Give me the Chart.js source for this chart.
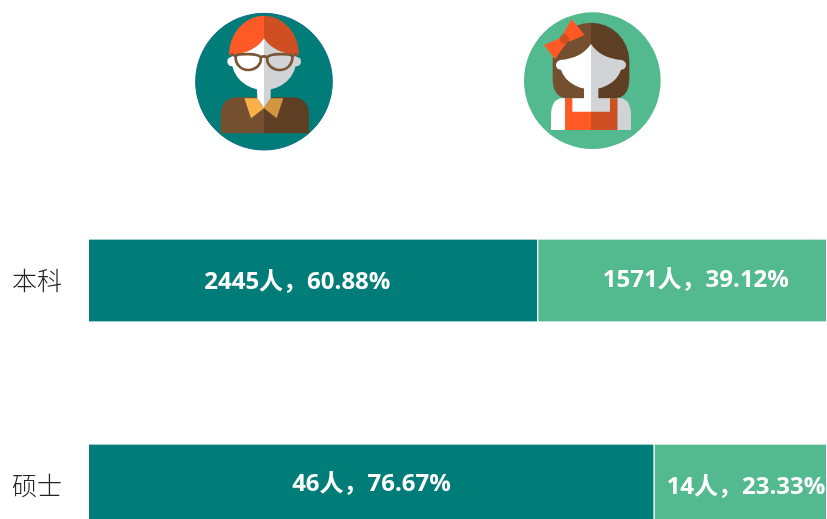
<!DOCTYPE html>
<html lang="zh">
<head>
<meta charset="utf-8">
<style>
  html, body { margin: 0; padding: 0; background: #fff; overflow: hidden; width: 827px; height: 519px; }
  #wrap { position: relative; width: 827px; height: 622px; }
  .icon { position: absolute; top: 0; width: 170px; height: 160px; }
</style>
<script src="https://cdn.jsdelivr.net/npm/chart.js@4"></script>
</head>
<body>
<div id="wrap">
  <canvas id="grafica"></canvas>

  <!-- hombre -->
  <svg class="icon" style="left:180px" viewBox="0 0 510 480">
    <circle cx="252" cy="245" r="205" fill="#007D78" stroke="#0B6A8C" stroke-width="3"/>
    <path d="M252 47A105 118 0 0 0 147 165H252Z" fill="#FF5A26"/>
    <path d="M252 47A105 118 0 0 1 357 165H252Z" fill="#D04F22"/>
    <path d="M122 400V345Q122 292 175 292H252V400Z" fill="#745030"/>
    <path d="M387 400V345Q387 292 334 292H252V400Z" fill="#5E3F24"/>
    <path d="M230 255H252V325L232 295Z" fill="#fff"/>
    <path d="M272 255H252V325L272 295Z" fill="#D1D3D6"/>
    <path d="M193 295H232L252 325L213 355Z" fill="#F9B14A"/>
    <path d="M310 295H272L252 325L290 355Z" fill="#D29640"/>
    <path d="M252 115Q225 158 155 165V180A97 90 0 0 0 252 270Z" fill="#fff"/>
    <path d="M252 115Q279 158 349 165V180A97 90 0 0 1 252 270Z" fill="#D1D3D6"/>
    <circle cx="156" cy="185" r="14" fill="#fff"/>
    <circle cx="349" cy="185" r="14" fill="#D1D3D6"/>
    <g fill="none" stroke="#7A5535" stroke-width="8">
      <path d="M167 168C175 160 235 160 242 172C246 195 225 210 205 210C185 210 165 195 167 168Z"/>
      <path d="M337 168C329 160 269 160 262 172C258 195 279 210 299 210C319 210 339 195 337 168Z"/>
      <path d="M242 172Q252 166 262 172M167 168L152 162M337 168L352 162"/>
    </g>
  </svg>

  <!-- mujer -->
  <svg class="icon" style="left:510px" viewBox="0 0 510 480">
    <circle cx="247" cy="242" r="205" fill="#53BA8F"/>
    <path d="M243 68A115 115 0 0 0 128 180V240Q130 295 175 295H243Z" fill="#745030"/>
    <path d="M243 68A115 115 0 0 1 358 180V240Q356 295 311 295H243Z" fill="#5E3F24"/>
    <path d="M165 295H150Q123 305 123 345V390H165Z" fill="#fff"/>
    <path d="M322 295H337Q363 305 363 345V390H322Z" fill="#D1D3D6"/>
    <path d="M165 295H243V390H165Z" fill="#FF5A26"/>
    <path d="M243 295H322V390H243Z" fill="#D04F22"/>
    <path d="M187 295H222V255H243V335H187Z" fill="#fff"/>
    <path d="M300 295H265V255H243V335H300Z" fill="#D1D3D6"/>
    <path d="M243 132Q215 175 150 180V195A93 80 0 0 0 243 268Z" fill="#fff"/>
    <path d="M243 132Q271 175 336 180V195A93 80 0 0 1 243 268Z" fill="#D1D3D6"/>
    <circle cx="152" cy="195" r="14" fill="#fff"/>
    <circle cx="334" cy="195" r="14" fill="#D1D3D6"/>
    <path d="M102 135L160 110L172 125L135 178Z" fill="#FF5A26"/>
    <path d="M185 58L224 105L178 125L160 100Z" fill="#FF5A26"/>
    <circle cx="163" cy="117" r="14" fill="#D04F22"/>
  </svg>
</div>

<script>
const categorias = ['本科', '硕士'];
const hombres = [2445, 46];
const mujeres = [1571, 14];
const porcHombres = [60.88, 76.67];
const porcMujeres = [39.12, 23.33];

// ajuste fino de las etiquetas [dx, dy] por serie y barra
const ajusteEtiquetas = [
    [[-16, 2], [0, -1]],
    [[14, 0], [6, 2]]
];

const etiquetasBarras = {
    id: 'etiquetasBarras',
    afterDatasetsDraw(chart) {
        const ctx = chart.ctx;
        const cantidades = [hombres, mujeres];
        const porcentajes = [porcHombres, porcMujeres];
        ctx.save();
        ctx.fillStyle = '#fff';
        ctx.font = 'bold 24px "Open Sans", "Noto Sans CJK SC", sans-serif';
        ctx.textAlign = 'center';
        ctx.textBaseline = 'middle';
        chart.data.datasets.forEach((ds, i) => {
            chart.getDatasetMeta(i).data.forEach((bar, j) => {
                const cx = (bar.base + bar.x) / 2 + ajusteEtiquetas[i][j][0];
                const cy = bar.y + ajusteEtiquetas[i][j][1];
                ctx.fillText(cantidades[i][j] + '人\uFF0C' + porcentajes[i][j].toFixed(2) + '%', cx, cy);
            });
        });
        ctx.restore();
    }
};

const canvas = document.getElementById('grafica');
canvas.width = 827;
canvas.height = 622;

new Chart(canvas.getContext('2d'), {
    type: 'bar',
    data: {
        labels: categorias,
        datasets: [
            {
                label: '男',
                data: porcHombres,
                backgroundColor: '#007D78',
                borderColor: '#fff',
                borderWidth: { right: 1 },
                borderSkipped: false,
                barThickness: 82
            },
            {
                label: '女',
                data: porcMujeres,
                backgroundColor: '#53BA8F',
                borderColor: '#fff',
                borderWidth: { left: 1 },
                borderSkipped: false,
                barThickness: 82
            }
        ]
    },
    options: {
        indexAxis: 'y',
        responsive: false,
        animation: false,
        layout: { padding: { top: 178, right: 1, bottom: 0, left: 0 } },
        plugins: {
            legend: { display: false },
            tooltip: { enabled: false }
        },
        scales: {
            x: { stacked: true, min: 0, max: 100, display: false },
            y: {
                stacked: true,
                grid: { display: false },
                border: { display: false },
                afterFit(scale) { scale.width = 89; },
                ticks: {
                    color: '#222',
                    padding: 19,
                    font: { size: 25, family: '"Noto Sans CJK SC", sans-serif', weight: '300' }
                }
            }
        }
    },
    plugins: [etiquetasBarras]
});
</script>
</body>
</html>
